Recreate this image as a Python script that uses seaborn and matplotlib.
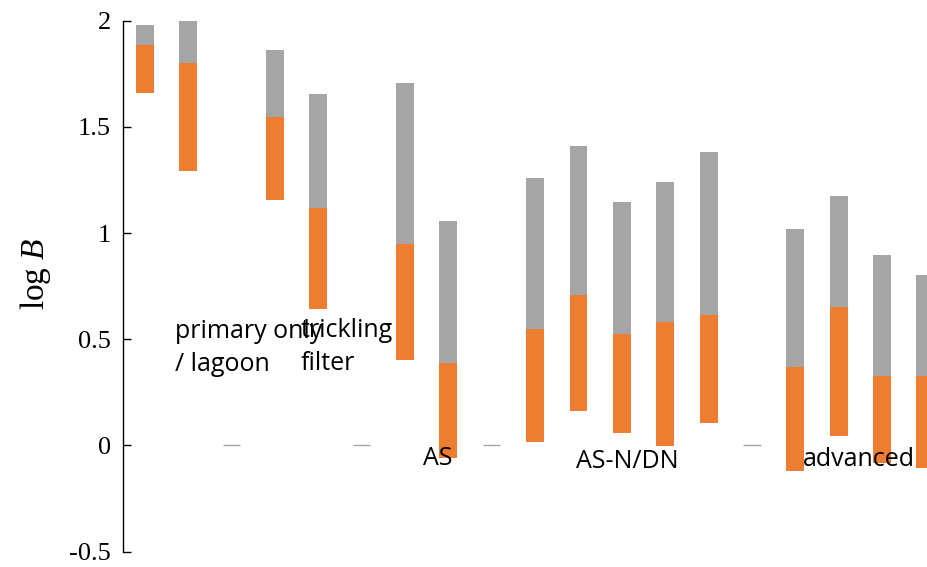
import numpy as np
import pandas as pd
import matplotlib
matplotlib.use("Agg")
import matplotlib.pyplot as plt
import seaborn as sns

# Per-plant ranges of log B: lower bound, split point, upper bound.
# NaN entries are the empty slots that separate the treatment groups.
nan = np.nan
plants = [f"P{i:02d}" for i in range(1, 20)]
low = [1.66, 1.29, nan, 1.155, 0.642, nan, 0.402, -0.06, nan, 0.016, 0.162,
       0.058, -0.003, 0.105, nan, -0.121, 0.044, -0.085, -0.107]
mid = [1.886, 1.801, nan, 1.546, 1.118, nan, 0.948, 0.388, nan, 0.548, 0.708,
       0.526, 0.582, 0.614, nan, 0.369, 0.651, 0.326, 0.326]
high = [1.98, 2.0, nan, 1.862, 1.655, nan, 1.707, 1.057, nan, 1.259, 1.409,
        1.146, 1.24, 1.382, nan, 1.019, 1.174, 0.897, 0.802]

# Treatment group labels; anchors are the baseline of each label's last line
group_labels = ["primary only\n/ lagoon", "trickling\nfilter", "AS", "AS-N/DN", "advanced"]
group_x = [0.69, 3.6, 6.42, 9.95, 15.17]
group_y = [0.35, 0.355, -0.093, -0.108, -0.096]

yticks = [-0.5, 0, 0.5, 1, 1.5, 2]

ORANGE = "#ED7D31"
GREY = "#A5A5A5"

sns.set_theme(style="white")
plt.rcParams["mathtext.fontset"] = "custom"
plt.rcParams["mathtext.it"] = "Liberation Serif:italic"
plt.rcParams["mathtext.rm"] = "Liberation Serif"

df = pd.DataFrame({"plant": plants, "low": low, "mid": mid, "high": high})
df["lower_part"] = df["mid"] - df["low"]
df["upper_part"] = df["high"] - df["mid"]
# empty slots become zero-height bars so every category keeps its place
plot_df = df.fillna(0.0)

fig = plt.figure(figsize=(9.28, 5.67), dpi=100)
ax = fig.add_axes([123.3 / 928, 15.5 / 567, 823.7 / 928, 530.8 / 567])

sns.barplot(data=plot_df, x="plant", y="lower_part", order=plants, color=ORANGE,
            saturation=1, width=0.415, bottom=plot_df["low"].to_numpy(), ax=ax,
            linewidth=0, errorbar=None)
sns.barplot(data=plot_df, x="plant", y="upper_part", order=plants, color=GREY,
            saturation=1, width=0.415, bottom=plot_df["mid"].to_numpy(), ax=ax,
            linewidth=0, errorbar=None)

# empty slots show as a flat stub on the zero line
empty = np.flatnonzero(df["high"].isna().to_numpy())
ax.hlines(np.zeros(len(empty)), empty - 0.2, empty + 0.2, color="#A6A6A6", lw=1)

for lab, gx, gy in zip(group_labels, group_x, group_y):
    ax.text(gx, gy, lab, ha="left", va="baseline", fontsize=18,
            family="Open Sans", color="black", linespacing=1.42, zorder=5)

ax.set_xlim(-0.5, len(plants) - 0.5)
ax.set_ylim(-0.5, 2)
ax.set_yticks(yticks)
ax.set_yticklabels([f"{t:g}" for t in yticks], family="Liberation Serif", fontsize=19)
ax.tick_params(axis="y", direction="in", length=6, width=1, color="black",
               pad=9, left=True, labelcolor="black")
ax.tick_params(axis="x", bottom=False, labelbottom=False)
ax.set_xlabel("")
ax.set_ylabel("log $B$", family="Liberation Serif", fontsize=24, color="black")
ax.yaxis.set_label_coords(-0.085, 0.523)

for side in ["top", "right", "bottom"]:
    ax.spines[side].set_visible(False)
ax.spines["left"].set_color("black")
ax.spines["left"].set_linewidth(1)

fig.savefig("out.png", dpi=100)
